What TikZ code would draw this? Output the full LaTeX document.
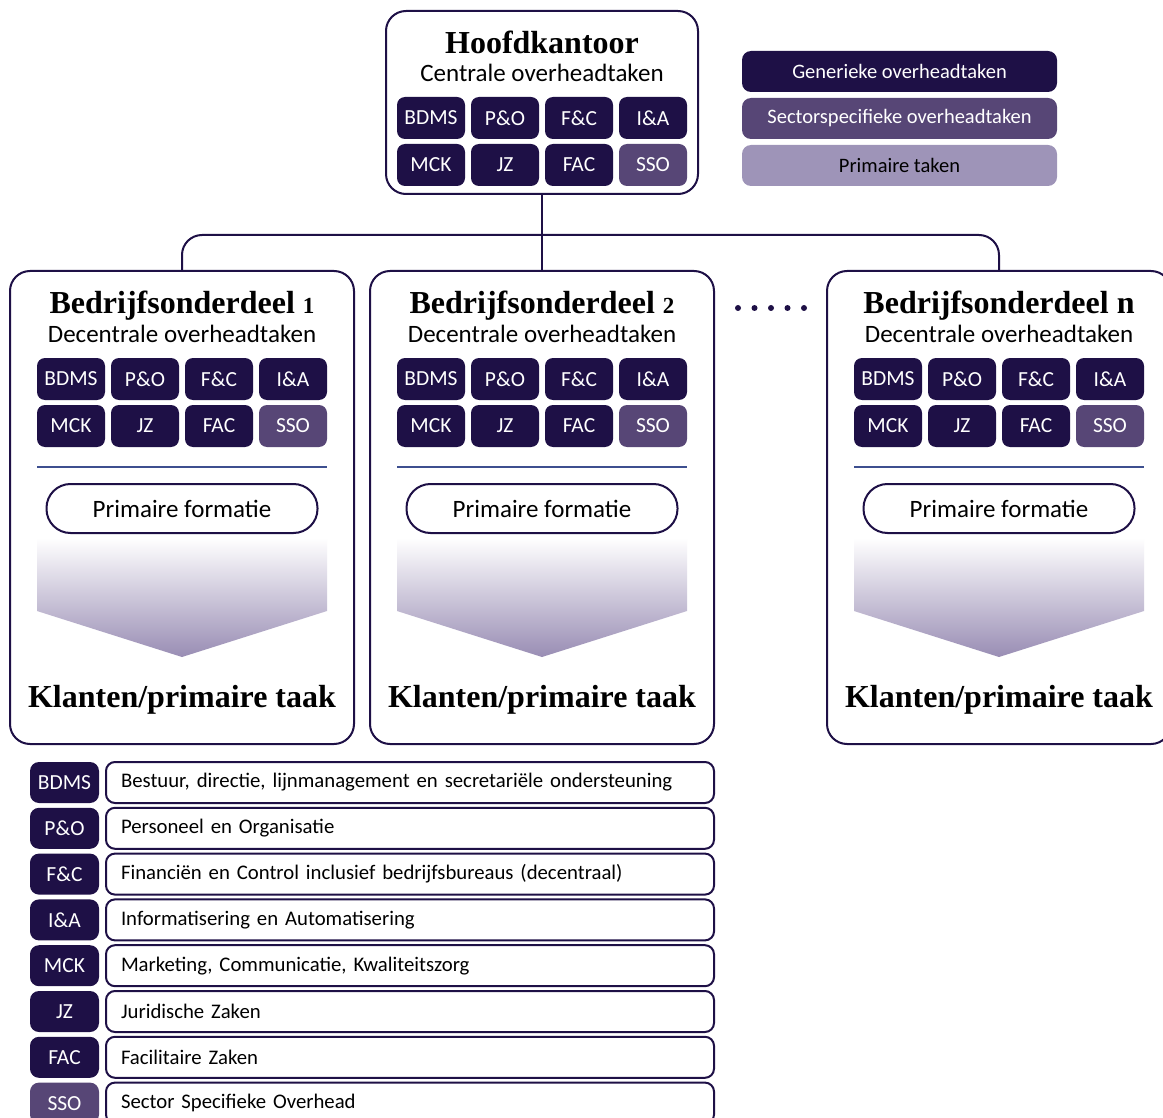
\documentclass[tikz,border=0pt]{standalone}
\usepackage{fontspec}
\setmainfont{Liberation Serif}
\setsansfont{Carlito}
\definecolor{darkc}{HTML}{1E1046}
\definecolor{midc}{HTML}{574676}
\definecolor{lightc}{HTML}{9E94B8}
\definecolor{arrowc}{HTML}{998DB4}
\definecolor{linec}{HTML}{3D4F8F}
\newcommand{\osn}[1]{{\fontsize{23}{23}\selectfont #1}}
\tikzset{
  orgbox/.style={draw=darkc, line width=2pt, rounded corners=20pt, fill=white, inner sep=0pt},
  tile/.style={fill=darkc, rounded corners=8pt, minimum width=68pt, minimum height=42pt, inner sep=0pt, text=white, font=\sffamily\fontsize{21.5}{21.5}\selectfont},
  tilesso/.style={tile, fill=midc},
  titletext/.style={font=\bfseries\fontsize{32}{32}\selectfont, inner sep=0pt, anchor=base},
  subtext/.style={font=\sffamily\fontsize{25}{25}\selectfont, inner sep=0pt, anchor=base},
  pill/.style={draw=darkc, line width=2pt, rounded corners=24pt, minimum width=271pt, minimum height=49pt, inner sep=0pt, font=\sffamily\fontsize{25}{25}\selectfont},
  divline/.style={draw=linec, line width=2pt},
  conn/.style={draw=darkc, line width=2pt},
  legbox/.style={rounded corners=9pt, minimum width=315pt, minimum height=41pt, inner sep=0pt, font=\sffamily\fontsize{20.5}{20.5}\selectfont},
  codetile/.style={fill=darkc, rounded corners=9pt, minimum width=69pt, minimum height=41pt, inner sep=0pt, text=white, font=\sffamily\fontsize{21.5}{21.5}\selectfont},
  descbox/.style={draw=darkc, line width=2pt, rounded corners=9pt, minimum height=41pt, text width=578pt, inner xsep=15pt, inner ysep=0pt, align=left, font=\sffamily\fontsize{20.75}{20.75}\selectfont}
}
\newcommand{\tilegrid}[3]{%
  \node[tile] (#1a) at (#2+34,#3+21) {BDMS};
  \node[tile] (#1b) at (#2+108,#3+21) {P\&O};
  \node[tile] (#1c) at (#2+182,#3+21) {F\&C};
  \node[tile] (#1d) at (#2+256,#3+21) {I\&A};
  \node[tile] (#1e) at (#2+34,#3+68) {MCK};
  \node[tile] (#1f) at (#2+108,#3+68) {JZ};
  \node[tile] (#1g) at (#2+182,#3+68) {FAC};
  \node[tilesso] (#1h) at (#2+256,#3+68) {SSO};
}
% company box contents: #1 prefix, #2 centre x, #3 title
\newcommand{\company}[3]{%
  \node[orgbox, minimum width=344pt, minimum height=473pt] (#1) at (#2,507.5) {};
  \node[titletext] (#1t) at (#2,313) {#3};
  \node[subtext] (#1s) at (#2,342) {Decentrale overheadtaken};
  \tilegrid{#1}{#2-145}{358}
  \path[divline] (#2-145,467) -- (#2+145,467);
  \node[pill] (#1p) at (#2,508.5) {Primaire formatie};
  \shade[top color=white, bottom color=arrowc] (#2-145,538) -- (#2+145,538) -- (#2+145,611) -- (#2,657) -- (#2-145,611) -- cycle;
  \node[titletext] (#1k) at (#2,707) {Klanten/primaire taak};
}
\begin{document}
\begin{tikzpicture}[x=1pt, y=-1pt]
\useasboundingbox (0,0) rectangle (1163,1118);
\clip (0,0) rectangle (1163,1118);

% head office
\node[orgbox, minimum width=312pt, minimum height=183pt] (hk) at (542,102.5) {};
\node[titletext] (hkt) at (542,54) {Hoofdkantoor};
\node[subtext] (hks) at (542,82) {Centrale overheadtaken};
\tilegrid{hk}{397}{97}

% legend (top right)
\node[legbox, fill=darkc, text=white] (lg1) at (899.5,71.5) {Generieke overheadtaken};
\node[legbox, fill=midc, text=white] (lg2) at (899.5,118.5) {Sectorspecifieke overheadtaken};
\node[legbox, fill=lightc, text=black] (lg3) at (899.5,165.5) {Primaire taken};

% company parts
\company{ba}{182}{Bedrijfsonderdeel \osn{1}}
\company{bb}{542}{Bedrijfsonderdeel \osn{2}}
\company{bn}{999}{Bedrijfsonderdeel n}

% dots
\foreach \dx in {738,754.5,771,787.5,804} \fill[darkc] (\dx,308) circle (3pt);

% connectors
\coordinate (bus) at (542,235);
\draw[conn] (hk.south) -- (bb.north);
\draw[conn, rounded corners=20pt] (ba.north) -- (ba.north |- bus) -- (bn.north |- bus) -- (bn.north);

% bottom legend
\foreach \code/\desc/\col [count=\k from 0] in {
  BDMS/{Bestuur, directie, lijnmanagement en secretariële ondersteuning}/darkc,
  P\&O/{Personeel en Organisatie}/darkc,
  F\&C/{Financiën en Control inclusief bedrijfsbureaus (decentraal)}/darkc,
  I\&A/{Informatisering en Automatisering}/darkc,
  MCK/{Marketing, Communicatie, Kwaliteitszorg}/darkc,
  JZ/{Juridische Zaken}/darkc,
  FAC/{Facilitaire Zaken}/darkc,
  SSO/{Sector Specifieke Overhead}/midc} {
  \node[codetile, fill=\col] (code\k) at (64.5,782.5+\k*45.8) {\code};
  \node[descbox, anchor=west] (desc\k) at (105,782.5+\k*45.8) {\desc};
}
\end{tikzpicture}
\end{document}
